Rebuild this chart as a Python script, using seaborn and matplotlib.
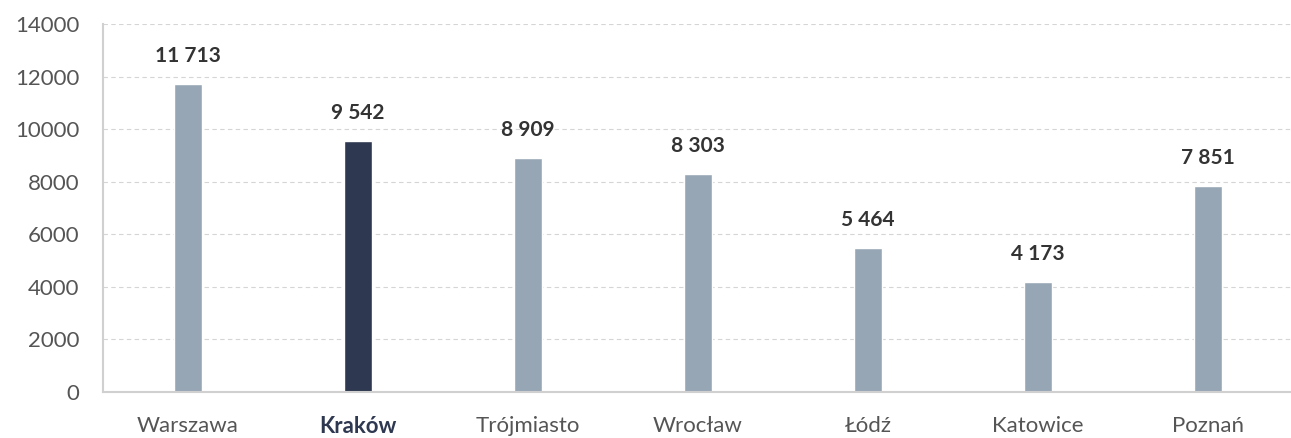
import matplotlib
matplotlib.use("Agg")
import matplotlib.pyplot as plt
import seaborn as sns
import pandas as pd

cities = ["Warszawa", "Kraków", "Trójmiasto", "Wrocław", "Łódź", "Katowice", "Poznań"]
values = [11713, 9542, 8909, 8303, 5464, 4173, 7851]
value_labels = ["11 713", "9 542", "8 909", "8 303", "5 464", "4 173", "7 851"]
yticks = [0, 2000, 4000, 6000, 8000, 10000, 12000, 14000]
highlight = "Kraków"

sns.set_theme(style="white")
plt.rcParams["font.family"] = ["Lato", "DejaVu Sans"]

df = pd.DataFrame({"city": cities, "value": values})
palette = {c: ("#2E3850" if c == highlight else "#97A6B5") for c in cities}

fig = plt.figure(figsize=(12.91, 4.38), dpi=100)
ax = fig.add_axes([103 / 1291, 1 - 392 / 438, 1190 / 1291, (392 - 24) / 438])
sns.barplot(data=df, x="city", y="value", hue="city", palette=palette,
            width=0.16, ax=ax, legend=False, saturation=1)

ax.set_xlim(-0.5, 6.5)
ax.set_ylim(0, 14000)
ax.set_yticks(yticks)
ax.set_yticklabels([str(t) for t in yticks], fontsize=16, color="#555555")
ax.yaxis.grid(True, linestyle=(0, (4, 3)), color="#D5D5D5", linewidth=0.8)
ax.set_axisbelow(True)
ax.set_xlabel("")
ax.set_ylabel("")
for s in ["top", "right"]:
    ax.spines[s].set_visible(False)
for s in ["left", "bottom"]:
    ax.spines[s].set_color("#D0D0D0")
    ax.spines[s].set_linewidth(1.5)
ax.tick_params(axis="both", length=0)
ax.tick_params(axis="y", pad=17)
ax.tick_params(axis="x", pad=17)

ax.set_xticks(range(len(cities)))
ax.set_xticklabels(cities, fontsize=16, color="#555555")
for lbl in ax.get_xticklabels():
    if lbl.get_text() == highlight:
        lbl.set_fontweight("bold")
        lbl.set_color("#2E3850")

for i, (v, t) in enumerate(zip(values, value_labels)):
    ax.annotate(t, (i, v), xytext=(0, 13), textcoords="offset points",
                ha="center", va="bottom", fontsize=15, fontweight="bold", color="#333333")

fig.savefig("out.png", dpi=100)
